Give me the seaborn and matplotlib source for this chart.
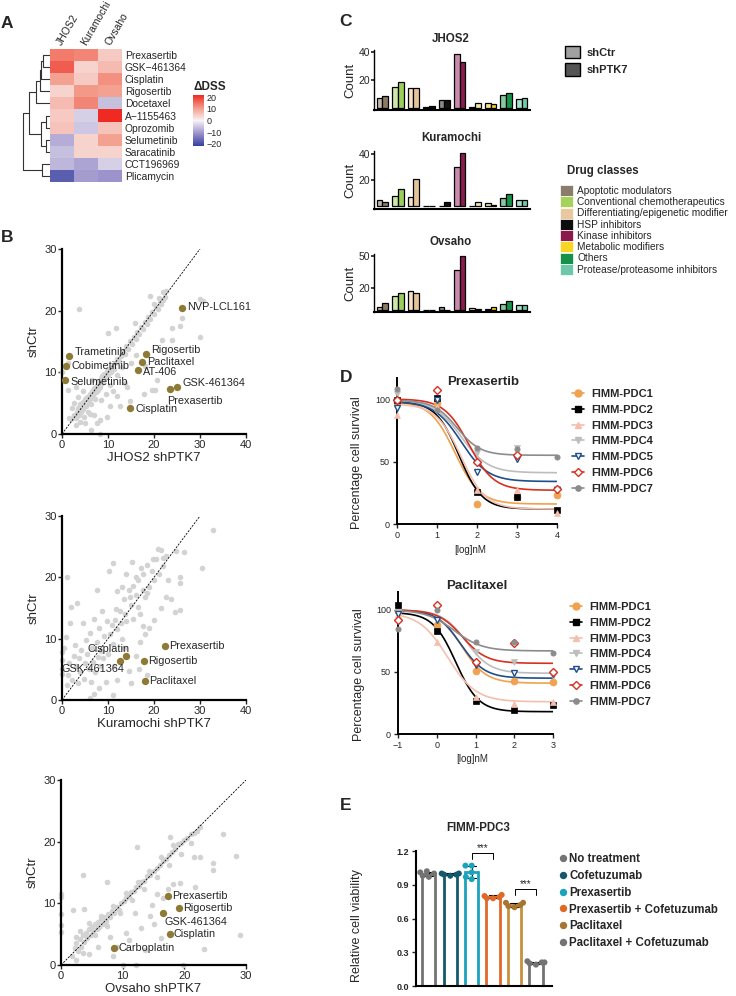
import numpy as np
import pandas as pd
import seaborn as sns
import matplotlib.pyplot as plt
from matplotlib.colors import LinearSegmentedColormap
from matplotlib.lines import Line2D
from matplotlib.patches import Patch

# ---------------- data ----------------
# A: heatmap of delta DSS
hm_drugs = ["Prexasertib", "GSK\u2212461364", "Cisplatin", "Rigosertib", "Docetaxel", "A\u22121155463",
            "Oprozomib", "Selumetinib", "Saracatinib", "CCT196969", "Plicamycin"]
hm_lines = ["JHOS2", "Kuramochi", "Ovsaho"]
hm_jhos2 = [14, 17, 10, 4, 7, 5, 6, -8, -6, -7, -18]
hm_kura = [13, 4, 5, 11, 13, -4, -5, 4, 4, -9, -10]
hm_ovsaho = [5, 7, 12, 10, -6, 22, 6, 10, 4, -4, -11]
# dendrogram merges (child a, child b, height), leaves 0..10, new nodes from 11
dendro_merges = [(0, 1, 0.25), (11, 2, 0.33), (12, 3, 0.38), (13, 4, 0.5), (5, 6, 0.13), (7, 8, 0.13),
                 (15, 16, 0.32), (14, 17, 0.77), (9, 10, 0.28), (18, 19, 1.0)]

# B: scatter shPTK7 vs shCtr
b1_grey = [(2.0, 2.5), (2.5, 3.0), (3.0, 2.6), (3.2, 3.5), (3.5, 4.2), (3.8, 3.0), (4.0, 4.8), (4.2, 3.6),
           (4.5, 5.2), (4.6, 4.0), (4.8, 2.8), (5.0, 5.6), (5.2, 4.6), (5.5, 6.0), (5.6, 3.6), (5.8, 5.2),
           (6.0, 6.5), (6.2, 4.8), (6.4, 5.8), (6.6, 7.0), (6.8, 6.2), (7.0, 7.5), (7.2, 5.6), (7.4, 6.8),
           (7.6, 8.0), (7.8, 7.2), (8.0, 8.6), (8.2, 7.6), (8.4, 9.0), (8.6, 8.2), (8.8, 9.4), (9.0, 8.8),
           (9.2, 9.8), (9.5, 9.2), (9.8, 10.2), (10.0, 9.6), (10.3, 10.5), (10.6, 10.0), (11.0, 11.0),
           (11.3, 10.6), (11.6, 11.5), (12.0, 12.2), (12.4, 11.8), (12.8, 12.6), (13.2, 13.4), (13.6, 13.0),
           (14.0, 14.2), (14.4, 13.8), (14.8, 15.0), (15.2, 14.6), (15.6, 15.8), (16.0, 15.4), (16.4, 16.6),
           (16.8, 16.2), (17.2, 17.4), (17.6, 17.0), (18.0, 18.2), (18.4, 17.8), (18.8, 19.0), (19.2, 18.6),
           (19.6, 19.8), (20.0, 19.4), (20.4, 20.6), (20.8, 20.2), (21.2, 21.4), (21.6, 21.0), (22.0, 21.8),
           (22.4, 22.2), (21.0, 22.0), (20.0, 21.0), (2.5, 5.0), (3.0, 1.5), (3.5, 6.0), (4.0, 2.0),
           (4.5, 7.0), (5.0, 1.8), (6.0, 3.2), (7.0, 3.0), (3.0, 7.6), (2.2, 4.2), (1.5, 2.6), (6.5, 8.8),
           (8.5, 5.5), (9.5, 6.5), (10.5, 8.0), (11.0, 7.0), (12.0, 9.5), (13.0, 10.8), (16.0, 12.8),
           (15.0, 11.5), (3.8, 20.2), (10.1, 16.3), (11.8, 17.2), (15.8, 18.0), (19.2, 22.4), (21.9, 23.0),
           (22.6, 23.2), (26.0, 18.8), (23.9, 17.2), (23.9, 15.3), (30.0, 15.8), (30.0, 21.9), (30.7, 21.6),
           (25.7, 17.5), (21.7, 15.2), (18.1, 11.0), (20.6, 8.8), (19.5, 7.2), (20.2, 7.2), (17.9, 6.5),
           (14.1, 7.7), (13.6, 8.3), (11.9, 6.2), (14.8, 5.3), (10.5, 4.5), (8.3, 2.3), (7.6, 1.8),
           (6.3, 0.7), (8.3, 0.05), (1.4, 7.2), (0.0, 10.0), (1.4, 11.5), (9.8, 2.8), (12.5, 4.6)]
b1_names = ["NVP-LCL161", "Trametinib", "Cobimetinib", "Selumetinib", "Rigosertib", "Paclitaxel",
            "AT-406", "GSK-461364", "Prexasertib", "Cisplatin"]
b1_x = [26.0, 1.6, 0.8, 0.7, 18.2, 17.3, 16.5, 25.0, 23.4, 14.8]
b1_y = [20.4, 12.6, 11.1, 8.7, 13.0, 11.7, 10.3, 7.6, 7.35, 4.2]

b2_grey = [(0, 5.0), (0, 6.5), (0, 7.8), (0, 4.2), (0.5, 8.5), (0.8, 10.3), (1, 2.5), (1.2, 4.0), (1.5, 6.0),
           (1.8, 12.5), (2.0, 15.2), (2.2, 3.2), (2.5, 7.2), (2.8, 9.0), (3.0, 5.5), (3.2, 15.8), (3.5, 2.8),
           (3.8, 6.8), (4.0, 4.5), (4.2, 8.2), (4.5, 12.5), (4.8, 3.5), (5.0, 6.0), (5.2, 9.8), (5.5, 7.5),
           (5.8, 5.0), (6.0, 11.0), (6.2, 3.0), (6.5, 8.5), (6.8, 6.2), (7.0, 13.2), (7.2, 4.5), (7.5, 9.5),
           (7.8, 7.0), (8.0, 11.8), (8.2, 5.5), (8.5, 8.0), (8.8, 14.5), (9.0, 6.8), (9.2, 10.5), (9.5, 3.0),
           (9.8, 12.8), (10.0, 7.5), (7.0, 1.0), (8.0, 2.0), (6.0, 0.3), (11, 0.8), (10.5, 10.8), (11, 9.2),
           (11.5, 13.0), (12, 11.5), (12.5, 14.5), (13, 10.0), (13.5, 16.5), (14, 12.8), (14.5, 18.0),
           (15, 15.5), (15.5, 13.2), (16, 17.2), (16.5, 19.5), (17, 14.0), (17.5, 20.5), (18, 16.8),
           (18.5, 22.0), (19, 18.5), (19.5, 21.0), (20, 19.5), (20.5, 23.0), (21, 20.5), (21.5, 24.5),
           (22, 21.8), (22.5, 23.5), (20.8, 24.6), (19.8, 23.0), (17.2, 21.5), (16.0, 20.0), (15.2, 22.5),
           (14.0, 20.5), (13.0, 18.5), (12.0, 17.8), (18.5, 17.5), (17.5, 18.0), (16.5, 15.2), (15.5, 18.6),
           (14.8, 16.8), (13.8, 14.0), (12.8, 12.6), (11.8, 14.8), (10.8, 12.2), (11.2, 5.5), (12.0, 3.2),
           (13.5, 8.5), (14.5, 4.8), (15.0, 2.8), (16.0, 7.2), (17.0, 9.5), (17.5, 12.0), (18.0, 10.8),
           (18.5, 4.0), (19.0, 11.8), (20.0, 13.0), (21.5, 15.0), (22.5, 16.8), (23.0, 19.5), (16.8, 5.0),
           (32.9, 27.7), (30.5, 21.6), (1.1, 20.0), (7.6, 17.9), (10.3, 21.0), (11.0, 22.3), (25.7, 20.1),
           (25.7, 19.1), (25.7, 14.6), (23.8, 16.5), (24.5, 14.3), (26.6, 24.1), (24.8, 24.3), (22.0, 23.2)]
b2_names = ["Prexasertib", "Rigosertib", "Paclitaxel", "Cisplatin", "GSK-461364"]
b2_x = [22.4, 17.9, 18.1, 14.0, 12.6]
b2_y = [8.8, 6.4, 3.15, 7.2, 6.35]

b3_grey = [(1.8, 1.5), (2.2, 2.8), (2.5, 3.5), (2.8, 2.2), (3.0, 4.2), (3.2, 3.0), (3.5, 4.8), (3.8, 3.8),
           (4.0, 5.2), (4.2, 4.4), (4.5, 5.8), (4.8, 4.8), (5.0, 6.2), (5.2, 5.4), (5.5, 6.6), (5.8, 5.8),
           (6.0, 7.0), (6.2, 6.2), (6.5, 7.4), (6.8, 6.6), (7.0, 7.8), (7.3, 7.2), (7.6, 8.2), (8.0, 7.8),
           (8.3, 8.8), (8.6, 8.4), (9.0, 9.4), (9.4, 9.0), (9.8, 10.0), (10.2, 10.4), (10.6, 10.8),
           (11.0, 11.2), (11.4, 11.8), (11.8, 12.0), (12.2, 12.6), (12.6, 12.8), (13.0, 13.4), (13.5, 13.6),
           (14.0, 14.4), (14.5, 14.6), (15.0, 15.2), (15.5, 15.8), (16.0, 16.2), (16.5, 16.8), (17.0, 17.2),
           (17.5, 17.8), (18.0, 18.4), (18.5, 18.8), (19.0, 19.6), (19.5, 19.8), (20.0, 20.2), (20.5, 20.6),
           (21.0, 21.2), (21.5, 21.4), (22.0, 21.8), (22.6, 22.4), (18.2, 19.4), (16.2, 17.5), (14.2, 15.3),
           (12.5, 13.5), (10.5, 11.6), (8.5, 9.6), (6.5, 8.0), (4.5, 6.8), (3.0, 5.5), (2.4, 4.5), (5.5, 4.8),
           (7.5, 6.4), (9.5, 8.4), (11.5, 10.5), (13.5, 12.4), (15.5, 14.2), (17.5, 16.2), (19.5, 18.0),
           (21.0, 19.8), (6.0, 3.0), (8.0, 4.5), (9.0, 3.0), (10.5, 5.2), (11.0, 4.0), (13.0, 6.0),
           (12.0, 8.5), (14.5, 8.0), (16.5, 10.8), (18.2, 13.2), (16.2, 4.4), (13.6, 2.4), (8.5, 1.5),
           (3.5, 2.0), (4.5, 1.8), (2.5, 0.8), (12.4, 19.1), (3.5, 14.6), (7.4, 13.5), (26.2, 21.2),
           (28.4, 17.7), (29.1, 4.9), (23.2, 2.6), (0, 11.5), (0, 11.0), (0, 8.2), (0, 6.5), (0, 5.3),
           (10.0, 0), (12.1, 0), (19.8, 0), (17.6, 20.8), (17.3, 12.3), (19.3, 13.3), (15.6, 11.5),
           (14.8, 9.8), (15.0, 6.6), (21.8, 12.6), (22.5, 17.5), (24.6, 16.6), (24.6, 15.4), (21.5, 17.5),
           (2.0, 9.0), (3.8, 9.1)]
b3_names = ["Prexasertib", "Rigosertib", "GSK-461364", "Cisplatin", "Carboplatin"]
b3_x = [17.3, 19.1, 16.6, 17.6, 8.6]
b3_y = [11.2, 9.2, 8.4, 5.1, 2.7]

# C: hit counts per drug class group
c_light = ["#C3B8A6", "#CDE8A8", "#F6E2C8", "#EEE6D8", "#8A8A8A", "#C98AAE", "#F2ECCB", "#F3E49A", "#86C8A0", "#A8E2CF"]
c_dark = ["#8B7B65", "#9ACD5A", "#E6C49A", "#111111", "#111111", "#8C1C50", "#F3E7A8", "#F2D21E", "#159447", "#6ECBAB"]
c_jhos2_ctr = [7.5, 15.3, 14.4, 0.7, 5.9, 38.8, 0.7, 3.5, 9.4, 6.6]
c_jhos2_ptk = [8.5, 18.4, 14.4, 1.6, 5.9, 32.9, 3.5, 2.6, 10.4, 7.5]
c_kura_ctr = [5.0, 7.8, 6.8, 0.3, 0.3, 30.0, 0.3, 2.3, 6.0, 5.0]
c_kura_ptk = [3.0, 12.8, 20.5, 0.3, 3.3, 40.5, 3.0, 1.3, 9.0, 5.0]
c_ovs_ctr = [3.0, 12.8, 17.7, 0.2, 3.0, 37.3, 1.8, 1.0, 6.0, 4.9]
c_ovs_ptk = [7.0, 15.9, 15.9, 0.2, 0.5, 49.8, 1.0, 3.0, 8.6, 4.9]
drug_classes = ["Apoptotic modulators", "Conventional chemotherapeutics", "Differentiating/epigenetic modifier",
                "HSP inhibitors", "Kinase inhibitors", "Metabolic modifiers", "Others", "Protease/proteasome inhibitors"]
class_colors = ["#8B7D6B", "#A6D25C", "#E8C89C", "#0D0D0D", "#8B1A4A", "#F9D423", "#15914A", "#6CC8A8"]

# D: dose response
pdc_names = ["FIMM-PDC1", "FIMM-PDC2", "FIMM-PDC3", "FIMM-PDC4", "FIMM-PDC5", "FIMM-PDC6", "FIMM-PDC7"]
pdc_colors = ["#F0A24E", "#000000", "#F5BFAE", "#BDBDBD", "#1F4E8C", "#D7301F", "#8C8C8C"]
pdc_markers = ["o", "s", "^", "v", "v", "D", "o"]
pdc_open = [False, False, False, False, True, True, False]
pdc_msize = [5, 5, 5, 5, 4.5, 4, 3.8]
prex_dose = [0, 1, 2, 3, 4]
prex_resp = [[98, 97, 16, 22, 23], [99, 101, 26, 22, 11], [87, 94, 27, 27, 9], [104, 99, 57, 61, 28],
             [93, 99, 42, 52, 27], [99, 107, 50, 55, 28], [108, 91, 61, 60, 54]]
prex_top = [98, 98, 96, 99, 98, 100, 99]
prex_bottom = [16, 12, 12, 41, 34, 27, 55]
prex_ec50 = [1.45, 1.55, 1.6, 1.6, 1.6, 1.8, 1.5]
prex_hill = [1.4, 1.5, 1.4, 1.3, 1.3, 1.4, 1.5]
pacl_dose = [-1, 0, 1, 2, 3]
pacl_resp = [[99, 88, 51, 43, 42], [104, 83, 27, 19, 23], [97, 74, 30, 24, 26], [98, 101, 66, 58, 47],
             [97, 92, 56, 49, 48], [92, 104, 58, 73, 50], [85, 100, 74, 74, 65]]
pacl_top = [100, 98, 98, 100, 100, 100, 100]
pacl_bottom = [41, 18, 26, 49, 45, 57, 67]
pacl_ec50 = [0.65, 0.49, 0.28, 0.76, 0.62, 0.66, 0.45]
pacl_hill = [1.4, 1.47, 1.18, 1.4, 1.4, 1.4, 1.2]

# E: FIMM-PDC3 viability
e_treat = ["No treatment", "Cofetuzumab", "Prexasertib", "Prexasertib + Cofetuzumab", "Paclitaxel",
           "Paclitaxel + Cofetuzumab"]
e_colors = ["#737373", "#14586E", "#1BA3BC", "#E0692A", "#C8913F", "#737373"]
e_dot_colors = ["#737373", "#14586E", "#1BA3BC", "#E0692A", "#A87530", "#737373"]
e_reps = [[1.02, 1.01, 1.00, 0.98, 0.97], [1.00, 1.00, 0.99, 0.99, 0.98], [1.07, 1.07, 1.01, 0.97, 0.95],
          [0.81, 0.80, 0.79, 0.78, 0.78], [0.74, 0.74, 0.72, 0.71, 0.70], [0.22, 0.21, 0.21, 0.20, 0.19]]
e_sig = [(2, 3, 1.18), (4, 5, 0.86)]

# ---------------- figure ----------------
sns.set_theme(style="ticks")
plt.rcParams['font.family'] = ['Liberation Sans', 'DejaVu Sans']
plt.rcParams['axes.edgecolor'] = 'black'

W, H = 736, 996
fig = plt.figure(figsize=(W / 100, H / 100), dpi=100)


def pax(l, t, r, b):
    return fig.add_axes([l / W, 1 - b / H, (r - l) / W, (b - t) / H])


def ftext(x, y, s, **kw):
    fig.text(x / W, 1 - y / H, s, **kw)


for lab, x, y in [("A", 7, 24), ("B", 7, 237), ("C", 345, 22), ("D", 346, 377), ("E", 346, 806)]:
    ftext(x, y, lab, fontsize=12.5, fontweight='bold', ha='center', va='center')

# ---- A: heatmap
dss_cmap = LinearSegmentedColormap.from_list(
    "dss", [(0, "#34409E"), (0.25, "#9C93CC"), (0.5, "#F8F4F6"), (0.75, "#F39A88"), (1, "#EE2A22")])
hm = pd.DataFrame({"JHOS2": hm_jhos2, "Kuramochi": hm_kura, "Ovsaho": hm_ovsaho}, index=hm_drugs)
axA = pax(50, 49, 122, 182)
cax = pax(193, 95, 204, 146)
sns.heatmap(hm, ax=axA, cbar_ax=cax, cmap=dss_cmap, vmin=-22, vmax=22,
            cbar_kws={"ticks": [-20, -10, 0, 10, 20]})
axA.yaxis.tick_right()
axA.set_yticks(np.arange(len(hm_drugs)) + 0.5)
axA.set_yticklabels(hm_drugs, rotation=0, fontsize=7.4)
axA.xaxis.tick_top()
axA.set_xticks(np.arange(3) + 0.4)
axA.set_xticklabels(hm_lines, rotation=60, ha='left', va='center', rotation_mode='anchor', fontsize=7.5)
axA.tick_params(axis='y', length=0, pad=2)
axA.tick_params(axis='x', length=0, pad=3)
axA.set_xlabel("")
cax.tick_params(length=0, labelsize=6.5, pad=2)
ftext(193, 87, "\u0394DSS", fontsize=8.5, fontweight='bold', va='center')

axD0 = pax(22, 49, 50, 182)
pos = {i: (i + 0.5, 0.0) for i in range(len(hm_drugs))}
for k, (a, b, h) in enumerate(dendro_merges):
    ya, ha_ = pos[a]
    yb, hb = pos[b]
    axD0.plot([ha_, h, h, hb], [ya, ya, yb, yb], color='#333333', lw=0.8)
    pos[len(hm_drugs) + k] = ((ya + yb) / 2, h)
axD0.set_ylim(len(hm_drugs), 0)
axD0.set_xlim(1.02, 0)
axD0.axis('off')

# ---- B: scatters
olive = "#8C7A35"


def scatter_panel(rect, grey, names, hx, hy, offsets, xmax, xlabel):
    ax = pax(*rect)
    gx = [p[0] for p in grey]
    gy = [p[1] for p in grey]
    sns.scatterplot(x=gx, y=gy, ax=ax, color="#D3D3D3", s=16, linewidth=0, clip_on=False)
    sns.scatterplot(x=hx, y=hy, ax=ax, color=olive, s=28, linewidth=0, clip_on=False, zorder=3)
    ax.axline((0, 0), slope=1, color='black', lw=0.6, ls=(0, (2.5, 1.5)))
    for n, x, y, (dx, dy, ha) in zip(names, hx, hy, offsets):
        ax.annotate(n, (x, y), xytext=(dx, dy), textcoords='offset points', ha=ha, va='center', fontsize=7.8)
    ax.set_xlim(0, xmax)
    ax.set_ylim(0, 30)
    ax.set_xticks(np.arange(0, xmax + 1, 10))
    ax.set_yticks([0, 10, 20, 30])
    sns.despine(ax=ax)
    for s in ["left", "bottom"]:
        ax.spines[s].set_linewidth(1.6)
    ax.tick_params(labelsize=8, length=3, width=1, pad=1)
    ax.set_xlabel(xlabel, fontsize=9.5, labelpad=2)
    ax.set_ylabel("shCtr", fontsize=9.5, labelpad=3)
    return ax


scatter_panel((62, 249, 246, 434), b1_grey, b1_names, b1_x, b1_y,
              [(4, 1, 'left'), (4, 3, 'left'), (4, 0, 'left'), (4, -1, 'left'), (4, 3, 'left'), (4, 0, 'left'),
               (4, -1, 'left'), (4, 3, 'left'), (-2, -9, 'left'), (4, -1, 'left')], 40, "JHOS2 shPTK7")
scatter_panel((62, 516, 246, 700), b2_grey, b2_names, b2_x, b2_y,
              [(3, 0, 'left'), (3, 0, 'left'), (3, 0, 'left'), (2, 5, 'right'), (3, -6, 'right')], 40,
              "Kuramochi shPTK7")
scatter_panel((61, 780, 246, 965), b3_grey, b3_names, b3_x, b3_y,
              [(3, 0, 'left'), (3, 0, 'left'), (1, -6, 'left'), (3, 0, 'left'), (3, 0, 'left')], 30,
              "Ovsaho shPTK7")

# ---- C: bar charts


def count_panel(rect, title, ctr, ptk, ylim, yticks, title_y):
    ax = pax(*rect)
    df = pd.DataFrame({"group": list(range(10)) * 2, "cond": ["shCtr"] * 10 + ["shPTK7"] * 10,
                       "count": ctr + ptk})
    sns.barplot(data=df, x="group", y="count", hue="cond", ax=ax, width=0.74, edgecolor='black',
                linewidth=0.9, legend=False, gap=0)
    for cont, cols in zip(ax.containers, [c_light, c_dark]):
        for bar, c in zip(cont, cols):
            bar.set_facecolor(c)
    ax.set_xlim(-0.55, 9.55)
    ax.set_ylim(*ylim)
    ax.set_yticks(yticks)
    ax.set_xticks([])
    ax.set_xlabel("")
    ax.set_ylabel("Count", fontsize=9.5, labelpad=1)
    sns.despine(ax=ax)
    ax.spines["bottom"].set_linewidth(1.5)
    ax.spines["left"].set_linewidth(1.0)
    ax.tick_params(axis='y', labelsize=7.5, length=2, pad=1)
    ftext(451, title_y, title, fontsize=8.3, fontweight='bold', ha='center', va='center')


count_panel((374, 50, 530, 110), "JHOS2", c_jhos2_ctr, c_jhos2_ptk, (-1.4, 41.4), [20, 40], 39)
count_panel((374, 151, 530, 209), "Kuramochi", c_kura_ctr, c_kura_ptk, (-2, 42), [20, 40], 138)
count_panel((374, 254, 530, 312), "Ovsaho", c_ovs_ctr, c_ovs_ptk, (-1.8, 52), [20, 50], 242)

fig.legend(handles=[Patch(facecolor="#A0A0A0", edgecolor='black'), Patch(facecolor="#555555", edgecolor='black')],
           labels=["shCtr", "shPTK7"], loc='upper left', bbox_to_anchor=(565 / W, 1 - 46 / H),
           frameon=False, handlelength=1.35, handleheight=1.35, labelspacing=0.45, handletextpad=0.55,
           borderpad=0, borderaxespad=0, prop={'size': 8, 'weight': 'bold'})
ftext(567, 171, "Drug classes", fontsize=8.3, fontweight='bold', va='center')
fig.legend(handles=[Patch(facecolor=c, edgecolor='white', linewidth=0.5) for c in class_colors],
           labels=drug_classes, loc='upper left', bbox_to_anchor=(560 / W, 1 - 185 / H),
           frameon=False, handlelength=1.3, handleheight=1.3, labelspacing=0.02, handletextpad=0.4,
           borderpad=0, borderaxespad=0, prop={'size': 7.3})

# ---- D: dose response


def dose_panel(rect, title, title_xy, dose, resp, top, bottom, ec50, hill, ylim, xlab_xy, leg_xy):
    ax = pax(*rect)
    grid = np.linspace(min(dose), max(dose), 200)
    for i in range(len(pdc_names)):
        curve = bottom[i] + (top[i] - bottom[i]) / (1 + 10 ** ((grid - ec50[i]) * hill[i]))
        sns.lineplot(x=grid, y=curve, ax=ax, color=pdc_colors[i], lw=1.2)
    for i in range(len(pdc_names)):
        ax.plot(dose, resp[i], ls='none', marker=pdc_markers[i], ms=pdc_msize[i],
                mfc='white' if pdc_open[i] else pdc_colors[i], mec=pdc_colors[i],
                mew=1.0 if pdc_open[i] else 0.5, clip_on=False, zorder=3)
    ax.set_xlim(min(dose), max(dose))
    ax.set_ylim(*ylim)
    ax.set_xticks(dose)
    ax.set_yticks([0, 50, 100])
    sns.despine(ax=ax)
    for s in ["left", "bottom"]:
        ax.spines[s].set_linewidth(1.4)
    ax.tick_params(labelsize=6.5, length=3, width=1, pad=2)
    ax.set_ylabel("Percentage cell survival", fontsize=9)
    ax.yaxis.set_label_coords(-0.21, 0.42)
    ftext(*title_xy, title, fontsize=9.5, fontweight='bold', ha='center', va='center')
    ftext(*xlab_xy, "[log]nM", fontsize=7, ha='center', va='center')
    handles = [Line2D([0], [0], color=pdc_colors[i], lw=1.2, marker=pdc_markers[i], ms=pdc_msize[i],
                      mfc='white' if pdc_open[i] else pdc_colors[i], mec=pdc_colors[i])
               for i in range(len(pdc_names))]
    fig.legend(handles=handles, labels=pdc_names, loc='upper left',
               bbox_to_anchor=(leg_xy[0] / W, 1 - leg_xy[1] / H), frameon=False, handlelength=1.1,
               labelspacing=0.52, handletextpad=0.6, borderpad=0, borderaxespad=0,
               prop={'size': 8, 'weight': 'bold'})


dose_panel((397, 378, 557, 524), "Prexasertib", (483, 382), prex_dose, prex_resp, prex_top, prex_bottom,
           prex_ec50, prex_hill, (0, 116.8), (470, 550), (572, 389))
dose_panel((398, 592, 553, 734), "Paclitaxel", (477, 586), pacl_dose, pacl_resp, pacl_top, pacl_bottom,
           pacl_ec50, pacl_hill, (0, 114.5), (472, 759), (570, 602))

# ---- E: bars with replicate points
dfE = pd.DataFrame({"treatment": [t for t, r in zip(e_treat, e_reps) for _ in r],
                    "viability": [v for r in e_reps for v in r]})
axE = pax(416, 851, 552, 986)
sns.barplot(data=dfE, x="treatment", y="viability", hue="treatment", palette=e_colors, fill=False,
            errorbar='sd', capsize=0.4, err_kws={'color': 'black', 'linewidth': 0.8}, linewidth=2,
            width=0.62, ax=axE, legend=False)
sns.swarmplot(data=dfE, x="treatment", y="viability", hue="treatment", palette=e_dot_colors, size=4.3,
              ax=axE, legend=False, zorder=3)
for a, b, y in e_sig:
    axE.plot([a, a, b, b], [y - 0.05, y, y, y - 0.05], color='black', lw=0.7)
    axE.text((a + b) / 2, y + 0.005, "***", ha='center', va='bottom', fontsize=7)
axE.set_xlim(-0.6, 5.75)
axE.set_ylim(0, 1.2)
axE.set_yticks([0, 0.3, 0.6, 0.9, 1.2])
axE.set_yticklabels(["0.0", "0.3", "0.6", "0.9", "1.2"])
axE.set_xticks([])
axE.set_xlabel("")
axE.set_ylabel("Relative cell viability", fontsize=9)
axE.yaxis.set_label_coords(-0.39, 0.45)
sns.despine(ax=axE)
for s in ["left", "bottom"]:
    axE.spines[s].set_linewidth(1.5)
axE.tick_params(labelsize=6.5, length=3, width=1, pad=2)
for lbl in axE.get_yticklabels():
    lbl.set_fontweight('bold')
ftext(478, 828, "FIMM-PDC3", fontsize=8.3, fontweight='bold', ha='center', va='center')
fig.legend(handles=[Line2D([0], [0], ls='none', marker='o', ms=4.3, color=c) for c in e_dot_colors],
           labels=e_treat, loc='upper left', bbox_to_anchor=(560 / W, 1 - 853 / H), frameon=False,
           handlelength=0.5, handletextpad=0.3, labelspacing=0.42, borderpad=0, borderaxespad=0,
           prop={'size': 8.3, 'weight': 'bold'})

fig.savefig("out.png", dpi=100)
